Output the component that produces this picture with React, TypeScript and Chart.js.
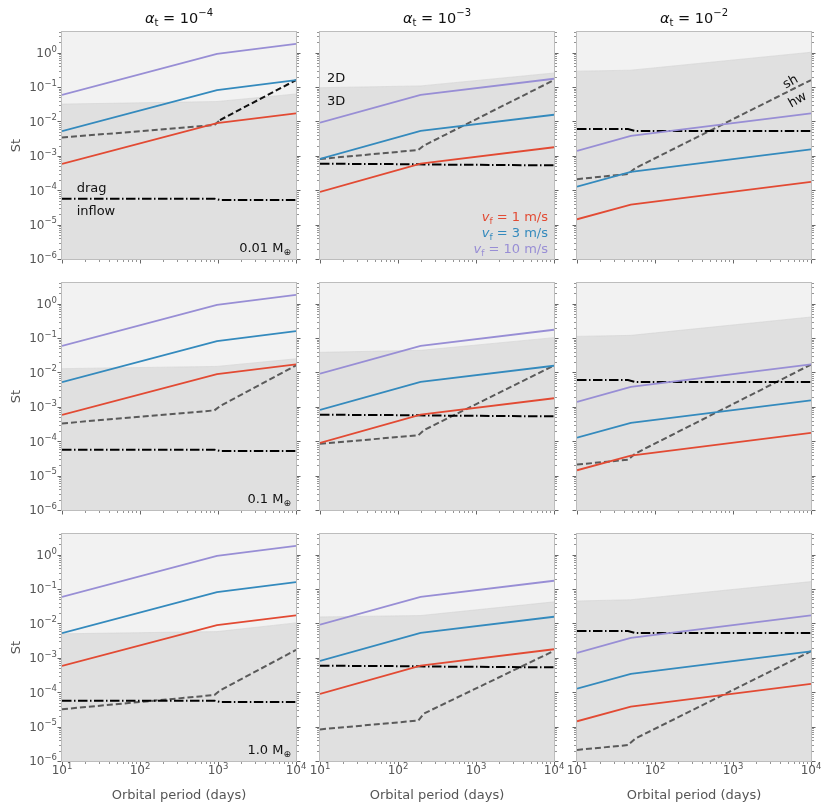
import React, { useEffect, useRef } from 'react';
import { Chart, registerables } from 'chart.js';

Chart.register(...registerables);

// ---------------- data ----------------
const ALPHA_EXPONENTS = ['−4', '−3', '−2'];
const PLANET_MASSES = ['0.01', '0.1', '1.0'];
const X_TICK_EXPONENTS = [1, 2, 3, 4];
const X_TICK_LABELS = ['1', '2', '3', '4'];
const Y_TICK_EXPONENTS = [-6, -5, -4, -3, -2, -1, 0];
const Y_TICK_LABELS = ['−6', '−5', '−4', '−3', '−2', '−1', '0'];
const X_RANGE = [10, 10000];
const Y_RANGE = [1e-6, 4];

// orbital periods (days) where the curves bend, per column (alpha_t)
const PERIOD_GRID = [
  [10, 970, 10000],
  [10, 195, 10000],
  [10, 49, 10000],
];
const KINK_GRID = [
  [10, 900, 1060, 10000],
  [10, 182, 215, 10000],
  [10, 45, 56, 10000],
];

// Stokes numbers for each fragmentation velocity, per column (same in all rows)
const ST_VF1 = [
  [5.8e-4, 8.9e-3, 0.0173],
  [8.9e-5, 5.9e-4, 1.78e-3],
  [1.43e-5, 3.8e-5, 1.75e-4],
];
const ST_VF3 = [
  [0.0052, 0.082, 0.16],
  [8.1e-4, 5.3e-3, 0.0157],
  [1.27e-4, 3.4e-4, 1.55e-3],
];
const ST_VF10 = [
  [0.059, 0.93, 1.8],
  [9.2e-3, 0.059, 0.175],
  [1.4e-3, 3.8e-3, 0.0173],
];

// drag / inflow boundary, per column
const DRAG_INFLOW = [
  [5.7e-5, 5.7e-5, 5.2e-5, 5.2e-5],
  [5.9e-4, 5.7e-4, 5.6e-4, 5.3e-4],
  [6.0e-3, 6.0e-3, 5.3e-3, 5.3e-3],
];

// sh / hw boundary, [row][column]
const SH_HW = [
  [
    [3.4e-3, 7.9e-3, 0.011, 0.16],
    [8.1e-4, 1.48e-3, 2.0e-3, 0.16],
    [2.1e-4, 2.96e-4, 4.4e-4, 0.16],
  ],
  [
    [3.3e-4, 7.9e-4, 1.05e-3, 0.016],
    [8.5e-5, 1.48e-4, 2.1e-4, 0.016],
    [2.1e-5, 2.9e-5, 4.4e-5, 0.017],
  ],
  [
    [3.2e-5, 8.3e-5, 1.12e-4, 1.7e-3],
    [8.3e-6, 1.5e-5, 2.4e-5, 1.6e-3],
    [2.1e-6, 2.9e-6, 4.5e-6, 1.56e-3],
  ],
];

// 2D / 3D boundary, [row][column]
const DIM_BOUNDARY = [
  [
    [0.032, 0.038, 0.063],
    [0.096, 0.108, 0.257],
    [0.29, 0.31, 1.03],
  ],
  [
    [0.0129, 0.015, 0.025],
    [0.0385, 0.044, 0.103],
    [0.112, 0.12, 0.41],
  ],
  [
    [5.0e-3, 5.8e-3, 0.0104],
    [0.0155, 0.017, 0.0425],
    [0.045, 0.049, 0.165],
  ],
];

// ---------------- layout & style ----------------
const FIG_W = 831;
const FIG_H = 810;
const COL_LEFT = [62, 320, 577];
const PANEL_W = 234;
const ROW_TOP = [32, 283, 534];
const PANEL_H = 227;
const COL_CELL = [[0, 308], [308, 565], [565, 831]];
const ROW_CELL = [[0, 271], [271, 522], [522, 810]];

const RED = '#E24A33';
const BLUE = '#348ABD';
const PURPLE = '#988ED5';
const LABEL_GRAY = '#555555';
const SPINE = '#bdbdbd';
const FONT = '"DejaVu Sans", sans-serif';

type Part = { t: string; size: number; italic?: boolean; dy?: number };

type Note = {
  parts: Part[];
  x: number;
  y: number;
  align: 'left' | 'center' | 'right';
  color: string;
  rot?: number;
};

const vfParts = (v: string): Part[] => [
  { t: 'v', size: 13, italic: true },
  { t: 'f', size: 9, dy: 3 },
  { t: ` = ${v} m/s`, size: 13 },
];

const NOTES: Record<string, Note[]> = {
  '0-0': [
    { parts: [{ t: 'drag', size: 13 }], x: 15.4, y: 1.24e-4, align: 'left', color: '#111' },
    { parts: [{ t: 'inflow', size: 13 }], x: 15.4, y: 2.67e-5, align: 'left', color: '#111' },
  ],
  '0-1': [
    { parts: [{ t: '2D', size: 13 }], x: 12.3, y: 0.196, align: 'left', color: '#111' },
    { parts: [{ t: '3D', size: 13 }], x: 12.3, y: 0.0402, align: 'left', color: '#111' },
    { parts: vfParts('1'), x: 8375, y: 1.78e-5, align: 'right', color: RED },
    { parts: vfParts('3'), x: 8375, y: 6.1e-6, align: 'right', color: BLUE },
    { parts: vfParts('10'), x: 8375, y: 2.09e-6, align: 'right', color: PURPLE },
  ],
  '0-2': [
    { parts: [{ t: 'sh', size: 13 }], x: 5380, y: 0.15, align: 'center', color: '#111', rot: -30 },
    { parts: [{ t: 'hw', size: 13 }], x: 6620, y: 0.045, align: 'center', color: '#111', rot: -30 },
  ],
};

const fontOf = (p: Part) => `${p.italic ? 'italic ' : ''}${p.size}px ${FONT}`;

function drawRich(ctx: any, parts: Part[], x: number, y: number, align: string, color: string, rotDeg = 0) {
  ctx.save();
  ctx.translate(x, y);
  if (rotDeg) ctx.rotate((rotDeg * Math.PI) / 180);
  ctx.fillStyle = color;
  ctx.textBaseline = 'alphabetic';
  ctx.textAlign = 'left';
  const mainSize = Math.max(...parts.map((p) => p.size));
  const base = mainSize * 0.36;
  const widths = parts.map((p) => {
    ctx.font = fontOf(p);
    return ctx.measureText(p.t).width;
  });
  const total = widths.reduce((s, w) => s + w, 0);
  let cx = align === 'left' ? 0 : align === 'center' ? -total / 2 : -total;
  parts.forEach((p, i) => {
    ctx.font = fontOf(p);
    ctx.fillText(p.t, cx, base + (p.dy || 0));
    cx += widths[i];
  });
  ctx.restore();
}

const decoPlugin = {
  id: 'panelDeco',
  afterDraw(chart: any, _args: any, opts: any) {
    const { ctx, chartArea: a, scales } = chart;
    const xs = scales.x;
    const ys = scales.y;
    ctx.save();
    // spines
    ctx.strokeStyle = SPINE;
    ctx.lineWidth = 1;
    ctx.strokeRect(a.left - 0.5, a.top - 0.5, a.right - a.left + 1, a.bottom - a.top + 1);

    // ticks
    ctx.strokeStyle = '#666';
    const seg = (x1: number, y1: number, x2: number, y2: number, w: number) => {
      ctx.lineWidth = w;
      ctx.beginPath();
      ctx.moveTo(x1, y1);
      ctx.lineTo(x2, y2);
      ctx.stroke();
    };
    for (let e = Y_TICK_EXPONENTS[0]; e <= Y_TICK_EXPONENTS[Y_TICK_EXPONENTS.length - 1]; e++) {
      for (let k = 1; k <= 9; k++) {
        const v = k * Math.pow(10, e);
        if (v > Y_RANGE[1]) continue;
        const py = Math.round(ys.getPixelForValue(v)) + 0.5;
        const len = k === 1 ? 3.5 : 2;
        const w = k === 1 ? 1 : 0.7;
        seg(a.left - 1 - len, py, a.left - 1, py, w);
        seg(a.right + 1, py, a.right + 1 + len, py, w);
      }
    }
    for (let e = X_TICK_EXPONENTS[0]; e <= X_TICK_EXPONENTS[X_TICK_EXPONENTS.length - 1]; e++) {
      for (let k = 1; k <= 9; k++) {
        const v = k * Math.pow(10, e);
        if (v > X_RANGE[1]) continue;
        const px = Math.round(xs.getPixelForValue(v)) + 0.5;
        const len = k === 1 ? 3.5 : 2;
        const w = k === 1 ? 1 : 0.7;
        seg(px, a.bottom + 1, px, a.bottom + 1 + len, w);
      }
    }

    // tick labels
    if (opts.yLabels) {
      Y_TICK_EXPONENTS.forEach((e, i) => {
        const py = ys.getPixelForValue(Math.pow(10, e));
        drawRich(ctx, [{ t: '10', size: 12 }, { t: Y_TICK_LABELS[i], size: 8.5, dy: -5.5 }], a.left - 5, py, 'right', LABEL_GRAY);
      });
      drawRich(ctx, [{ t: 'St', size: 13 }], 15, (a.top + a.bottom) / 2, 'center', LABEL_GRAY, -90);
    }
    if (opts.xLabels) {
      X_TICK_EXPONENTS.forEach((e, i) => {
        const px = xs.getPixelForValue(Math.pow(10, e));
        drawRich(ctx, [{ t: '10', size: 12 }, { t: X_TICK_LABELS[i], size: 8.5, dy: -5.5 }], px, a.bottom + 9, 'center', LABEL_GRAY);
      });
      drawRich(ctx, [{ t: 'Orbital period (days)', size: 13 }], (a.left + a.right) / 2, a.bottom + 33, 'center', LABEL_GRAY);
    }

    // title
    if (opts.title) {
      drawRich(
        ctx,
        [
          { t: 'α', size: 14.5, italic: true },
          { t: 't', size: 10, dy: 3 },
          { t: ' = 10', size: 14.5 },
          { t: opts.title, size: 10, dy: -7 },
        ],
        (a.left + a.right) / 2,
        a.top - 14,
        'center',
        '#111'
      );
    }

    // mass label
    if (opts.mass) {
      drawRich(
        ctx,
        [
          { t: `${opts.mass} M`, size: 13 },
          { t: '⊕', size: 9, dy: 2.5 },
        ],
        a.right - 5,
        a.bottom - 11.5,
        'right',
        '#111'
      );
    }

    // annotations (data coordinates)
    (opts.notes || []).forEach((n: Note) => {
      drawRich(ctx, n.parts, xs.getPixelForValue(n.x), ys.getPixelForValue(n.y), n.align, n.color, n.rot || 0);
    });
    ctx.restore();
  },
};

const pts = (xv: number[], yv: number[]) => xv.map((x, i) => ({ x, y: yv[i] }));

function buildConfig(r: number, c: number): any {
  const [cl, cr] = COL_CELL[c];
  const [rt, rb] = ROW_CELL[r];
  const padding = {
    left: COL_LEFT[c] - cl,
    right: cr - (COL_LEFT[c] + PANEL_W),
    top: ROW_TOP[r] - rt,
    bottom: rb - (ROW_TOP[r] + PANEL_H),
  };
  const darkLastDash = r === 0 && c === 0;
  return {
    type: 'line',
    data: {
      datasets: [
        {
          label: '3D',
          data: pts(PERIOD_GRID[c], DIM_BOUNDARY[r][c]),
          fill: 'start',
          backgroundColor: '#e0e0e0',
          borderColor: '#d2d2d2',
          borderWidth: 0.6,
          order: 20,
        },
        {
          label: '2D',
          data: pts(PERIOD_GRID[c], DIM_BOUNDARY[r][c]),
          fill: 'end',
          backgroundColor: '#f2f2f2',
          borderWidth: 0,
          order: 21,
        },
        {
          label: 'sh / hw',
          data: pts(KINK_GRID[c], SH_HW[r][c]),
          borderColor: '#5a5a5a',
          borderDash: [6, 3],
          borderWidth: 2,
          fill: false,
          order: 5,
          segment: darkLastDash
            ? { borderColor: (ctx: any) => (ctx.p0DataIndex >= 2 ? '#111' : undefined) }
            : undefined,
        },
        {
          label: 'drag / inflow',
          data: pts(KINK_GRID[c], DRAG_INFLOW[c]),
          borderColor: '#000',
          borderDash: [9.5, 2.5, 1.5, 2.5],
          borderWidth: 2,
          fill: false,
          order: 4,
        },
        { label: 'vf = 1 m/s', data: pts(PERIOD_GRID[c], ST_VF1[c]), borderColor: RED, borderWidth: 1.8, fill: false, order: 3 },
        { label: 'vf = 3 m/s', data: pts(PERIOD_GRID[c], ST_VF3[c]), borderColor: BLUE, borderWidth: 1.8, fill: false, order: 2 },
        { label: 'vf = 10 m/s', data: pts(PERIOD_GRID[c], ST_VF10[c]), borderColor: PURPLE, borderWidth: 1.8, fill: false, order: 1 },
      ],
    },
    options: {
      animation: false,
      responsive: false,
      maintainAspectRatio: false,
      events: [],
      layout: { padding },
      elements: { point: { radius: 0 }, line: { tension: 0 } },
      scales: {
        x: { type: 'logarithmic', min: X_RANGE[0], max: X_RANGE[1], display: false },
        y: { type: 'logarithmic', min: Y_RANGE[0], max: Y_RANGE[1], display: false },
      },
      plugins: {
        legend: { display: false },
        tooltip: { enabled: false },
        panelDeco: {
          yLabels: c === 0,
          xLabels: r === 2,
          title: r === 0 ? ALPHA_EXPONENTS[c] : null,
          mass: c === 0 ? PLANET_MASSES[r] : null,
          notes: NOTES[`${r}-${c}`] || [],
        },
      },
    },
    plugins: [decoPlugin],
  };
}

export default function App() {
  const refs = useRef<(HTMLCanvasElement | null)[]>([]);
  useEffect(() => {
    const charts: any[] = [];
    for (let r = 0; r < 3; r++) {
      for (let c = 0; c < 3; c++) {
        const cv = refs.current[r * 3 + c];
        if (cv) charts.push(new Chart(cv, buildConfig(r, c)));
      }
    }
    return () => charts.forEach((ch) => ch.destroy());
  }, []);

  const cells: any[] = [];
  for (let r = 0; r < 3; r++) {
    for (let c = 0; c < 3; c++) {
      const [cl, cr] = COL_CELL[c];
      const [rt, rb] = ROW_CELL[r];
      const i = r * 3 + c;
      cells.push(
        <canvas
          key={i}
          ref={(el) => {
            refs.current[i] = el;
          }}
          width={cr - cl}
          height={rb - rt}
          style={{ position: 'absolute', left: cl, top: rt, width: cr - cl, height: rb - rt }}
        />
      );
    }
  }
  return (
    <div style={{ position: 'absolute', left: 0, top: 0, width: FIG_W, height: FIG_H, background: '#fff', overflow: 'hidden' }}>
      {cells}
    </div>
  );
}
